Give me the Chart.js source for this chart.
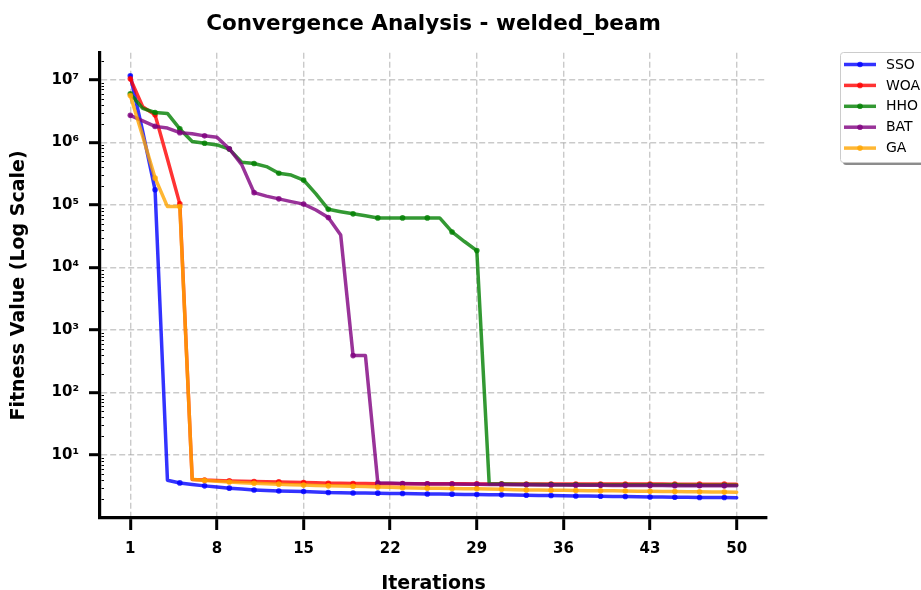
<!DOCTYPE html>
<html>
<head>
<meta charset="utf-8">
<title>Convergence Analysis - welded_beam</title>
<script src="https://cdn.jsdelivr.net/npm/chart.js@4.4.1/dist/chart.umd.min.js"></script>
<style>
    html, body { margin: 0; padding: 0; background: #ffffff; }
    #wrap { width: 921px; height: 590px; }
</style>
</head>
<body>
<div id="wrap"><canvas id="convergenceChart" width="921" height="590"></canvas></div>
<script>
// Dados do gráfico de convergência
const iterations = [1, 2, 3, 4, 5, 6, 7, 8, 9, 10, 11, 12, 13, 14, 15, 16, 17, 18, 19, 20,
    21, 22, 23, 24, 25, 26, 27, 28, 29, 30, 31, 32, 33, 34, 35, 36, 37, 38, 39, 40,
    41, 42, 43, 44, 45, 46, 47, 48, 49, 50];

const seriesNames = ['SSO', 'WOA', 'HHO', 'BAT', 'GA'];

const ssoValues = [1.16e7, 1.5e6, 1.74e5, 3.98, 3.60, 3.40, 3.23, 3.10, 2.97, 2.87,
    2.78, 2.72, 2.68, 2.65, 2.63, 2.58, 2.53, 2.51, 2.49, 2.48,
    2.47, 2.45, 2.44, 2.42, 2.40, 2.39, 2.38, 2.36, 2.35, 2.33,
    2.32, 2.30, 2.29, 2.27, 2.26, 2.25, 2.23, 2.22, 2.21, 2.19,
    2.18, 2.16, 2.15, 2.14, 2.13, 2.12, 2.10, 2.10, 2.10, 2.09];

const woaValues = [1.04e7, 3.7e6, 2.75e6, 5.4e5, 1.04e5, 4.10, 4.00, 3.95, 3.88, 3.83,
    3.79, 3.76, 3.74, 3.70, 3.66, 3.61, 3.56, 3.55, 3.53, 3.51,
    3.50, 3.50, 3.49, 3.49, 3.49, 3.48, 3.48, 3.48, 3.47, 3.47,
    3.47, 3.47, 3.46, 3.46, 3.46, 3.46, 3.46, 3.45, 3.45, 3.45,
    3.45, 3.45, 3.45, 3.45, 3.44, 3.44, 3.44, 3.44, 3.44, 3.44];

const hhoValues = [5.97e6, 3.5e6, 3.0e6, 2.9e6, 1.64e6, 1.03e6, 9.7e5, 9.1e5, 7.8e5, 4.8e5,
    4.6e5, 4.1e5, 3.2e5, 3.0e5, 2.5e5, 1.5e5, 8.5e4, 7.8e4, 7.2e4, 6.7e4,
    6.2e4, 6.2e4, 6.2e4, 6.2e4, 6.2e4, 6.2e4, 3.7e4, 2.6e4, 1.86e4, 3.50,
    3.45, 3.42, 3.40, 3.39, 3.38, 3.37, 3.36, 3.35, 3.35, 3.34,
    3.34, 3.33, 3.33, 3.32, 3.32, 3.31, 3.31, 3.30, 3.30, 3.30];

const batValues = [2.7e6, 2.2e6, 1.8e6, 1.69e6, 1.43e6, 1.37e6, 1.27e6, 1.21e6, 7.9e5, 4.4e5,
    1.57e5, 1.38e5, 1.25e5, 1.13e5, 1.03e5, 8.3e4, 6.3e4, 3.3e4, 390, 390,
    3.60, 3.58, 3.53, 3.50, 3.47, 3.46, 3.45, 3.44, 3.42, 3.40,
    3.39, 3.38, 3.36, 3.35, 3.33, 3.32, 3.31, 3.30, 3.29, 3.28,
    3.27, 3.27, 3.26, 3.26, 3.25, 3.25, 3.24, 3.24, 3.23, 3.23];

const gaValues = [5.6e6, 1.25e6, 2.7e5, 9.4e4, 9.4e4, 4.13, 3.95, 3.82, 3.72, 3.62,
    3.55, 3.50, 3.44, 3.38, 3.32, 3.27, 3.23, 3.21, 3.19, 3.15,
    3.10, 3.06, 3.02, 3.00, 2.97, 2.95, 2.93, 2.91, 2.90, 2.87,
    2.84, 2.81, 2.78, 2.77, 2.75, 2.74, 2.72, 2.71, 2.70, 2.69,
    2.67, 2.65, 2.64, 2.63, 2.62, 2.60, 2.59, 2.58, 2.57, 2.56];

// Rótulos dos eixos
const xTickValues = [1, 8, 15, 22, 29, 36, 43, 50];
const yTickValues = [1e1, 1e2, 1e3, 1e4, 1e5, 1e6, 1e7];
const yTickLabels = ['10¹', '10²', '10³', '10⁴', '10⁵', '10⁶', '10⁷'];

const FONT = "'DejaVu Sans', 'Liberation Sans', sans-serif";

// Cores de cada algoritmo (alpha 0.8)
function getColorByIndex(index) {
    const colors = [
        'rgba(0, 0, 255, 0.8)',     // Azul
        'rgba(255, 0, 0, 0.8)',     // Vermelho
        'rgba(0, 128, 0, 0.8)',     // Verde
        'rgba(128, 0, 128, 0.8)',   // Roxo
        'rgba(255, 165, 0, 0.8)'    // Laranja
    ];
    return colors[index % colors.length];
}

// Marcador a cada 2 iterações
function markerRadius(ctx) {
    return ctx.dataIndex % 2 === 0 ? 2.8 : 0;
}

// Ticks menores do eixo log + caixa de legenda
const extrasPlugin = {
    id: 'extras',
    afterDraw(chart) {
        const ctx = chart.ctx;
        const y = chart.scales.y;
        const left = chart.chartArea.left;

        // ticks menores
        ctx.save();
        ctx.strokeStyle = '#000';
        ctx.lineWidth = 1;
        for (let n = 0; n <= 7; n++) {
            for (let k = 2; k <= 9; k++) {
                const v = k * Math.pow(10, n);
                if (v < y.min || v > y.max) continue;
                const py = Math.round(y.getPixelForValue(v)) + 0.5;
                ctx.beginPath();
                ctx.moveTo(left + 1.5, py);
                ctx.lineTo(left + 4, py);
                ctx.stroke();
            }
        }
        ctx.restore();

        // legenda
        const bx = 840.5, by = 52.5, bw = 100, bh = 110;
        ctx.save();
        ctx.fillStyle = 'rgba(0, 0, 0, 0.45)';
        ctx.beginPath();
        ctx.roundRect(bx + 2.5, by + 2.5, bw, bh, 3);
        ctx.fill();
        ctx.fillStyle = '#ffffff';
        ctx.strokeStyle = '#cccccc';
        ctx.lineWidth = 1;
        ctx.beginPath();
        ctx.roundRect(bx, by, bw, bh, 3);
        ctx.fill();
        ctx.stroke();

        ctx.font = '14px ' + FONT;
        ctx.textBaseline = 'middle';
        ctx.textAlign = 'left';
        chart.data.datasets.forEach((ds, i) => {
            const ly = 64.5 + i * 20.9;
            ctx.strokeStyle = ds.borderColor;
            ctx.lineWidth = 3.5;
            ctx.beginPath();
            ctx.moveTo(844, ly);
            ctx.lineTo(876, ly);
            ctx.stroke();
            ctx.fillStyle = ds.borderColor;
            ctx.beginPath();
            ctx.arc(860, ly, 2.8, 0, Math.PI * 2);
            ctx.fill();
            ctx.fillStyle = '#000';
            ctx.fillText(ds.label, 886, ly + 0.5);
        });
        ctx.restore();
    }
};

// Função para criar o gráfico
function createConvergenceChart() {
    const canvas = document.getElementById('convergenceChart');
    if (!canvas) {
        console.error('Canvas #convergenceChart não encontrado');
        return;
    }

    const allValues = [ssoValues, woaValues, hhoValues, batValues, gaValues];
    const datasets = seriesNames.map((name, index) => ({
        label: name,
        data: allValues[index],
        borderColor: getColorByIndex(index),
        backgroundColor: getColorByIndex(index),
        pointBackgroundColor: getColorByIndex(index),
        pointBorderWidth: 0,
        pointRadius: markerRadius,
        pointHoverRadius: 0,
        borderWidth: 3.5,
        borderJoinStyle: 'round',
        borderCapStyle: 'round',
        tension: 0,
        fill: false,
        order: seriesNames.length - index
    }));

    const ctx = canvas.getContext('2d');

    window.convergenceChart = new Chart(ctx, {
        type: 'line',
        data: { labels: iterations, datasets: datasets },
        plugins: [extrasPlugin],
        options: {
            responsive: false,
            animation: false,
            layout: { padding: { left: 0, right: 154, top: 0, bottom: 0 } },
            plugins: {
                legend: { display: false },
                tooltip: { enabled: false },
                title: {
                    display: true,
                    fullSize: false,
                    text: 'Convergence Analysis - welded_beam',
                    color: '#000',
                    font: { family: FONT, size: 21.5, weight: 'bold', lineHeight: 1.2 },
                    padding: { top: 12, bottom: 15 }
                }
            },
            scales: {
                x: {
                    type: 'linear',
                    min: -1.45,
                    max: 52.45,
                    afterBuildTicks(scale) {
                        scale.ticks = xTickValues.map(v => ({ value: v }));
                    },
                    afterFit(scale) {
                        scale.height = 72;
                    },
                    ticks: {
                        autoSkip: false,
                        maxRotation: 0,
                        padding: 10,
                        color: '#000',
                        font: { family: FONT, size: 15, weight: 'bold' },
                        callback: (value) => String(value)
                    },
                    grid: {
                        color: 'rgba(128, 128, 128, 0.42)',
                        lineWidth: 1.4,
                        drawTicks: true,
                        tickLength: 12,
                        tickWidth: 3,
                        tickColor: '#000'
                    },
                    border: { display: true, color: '#000', width: 3.2, dash: [6, 3] },
                    title: {
                        display: true,
                        text: 'Iterations',
                        color: '#000',
                        font: { family: FONT, size: 19, weight: 'bold', lineHeight: 0.6 },
                        padding: { top: 0, bottom: 0 }
                    }
                },
                y: {
                    type: 'logarithmic',
                    min: 0.99,
                    max: 2.7e7,
                    afterBuildTicks(scale) {
                        scale.ticks = yTickValues.map(v => ({ value: v }));
                    },
                    afterFit(scale) {
                        scale.width = 100;
                    },
                    ticks: {
                        autoSkip: false,
                        padding: 10,
                        color: '#000',
                        font: { family: FONT, size: 15, weight: 'bold' },
                        callback: (value) => {
                            const i = yTickValues.indexOf(value);
                            return i >= 0 ? yTickLabels[i] : '';
                        }
                    },
                    grid: {
                        color: 'rgba(128, 128, 128, 0.42)',
                        lineWidth: 1.4,
                        drawTicks: true,
                        tickLength: 11,
                        tickWidth: 3,
                        tickColor: '#000'
                    },
                    border: { display: true, color: '#000', width: 3.2, dash: [6, 3] },
                    title: {
                        display: true,
                        text: 'Fitness Value (Log Scale)',
                        color: '#000',
                        font: { family: FONT, size: 19, weight: 'bold', lineHeight: 1.2 },
                        padding: { top: 8, bottom: 0 }
                    }
                }
            }
        }
    });
}

// Inicializar o gráfico quando a página carregar
document.addEventListener('DOMContentLoaded', function() {
    createConvergenceChart();
});
</script>
</body>
</html>
